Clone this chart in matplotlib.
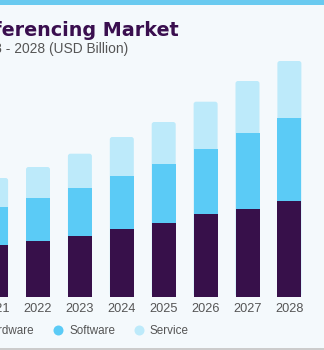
import matplotlib
matplotlib.use("Agg")
import matplotlib.pyplot as plt
from matplotlib.patches import FancyBboxPatch, Rectangle
from matplotlib.lines import Line2D
import numpy as np

years = ["2021", "2022", "2023", "2024", "2025", "2026", "2027", "2028"]
hardware = [5.15, 5.58, 6.05, 6.72, 7.38, 8.22, 8.72, 9.55]
software = [3.83, 4.27, 4.80, 5.36, 5.87, 6.53, 7.63, 8.30]
service = [2.87, 3.10, 3.43, 3.87, 4.20, 4.73, 5.20, 5.70]

c_hw = "#37104A"
c_sw = "#5BCBF6"
c_sv = "#BDEAFA"
bg = "#F4F9FC"

W, H = 324, 350
fig = plt.figure(figsize=(W / 100, H / 100), dpi=100, facecolor=bg)

# axes geometry in pixels
step = 41.9
x0_px = -3.9
xlim = (-0.8, 7.6)
left_px = x0_px + xlim[0] * step
right_px = x0_px + xlim[1] * step
bottom_px = 350 - 296.5
ylim = (0, 25)
height_px = 250
ax = fig.add_axes([left_px / W, bottom_px / H, (right_px - left_px) / W, height_px / H])
ax.set_facecolor(bg)
ax.set_xlim(*xlim)
ax.set_ylim(*ylim)

x = np.arange(len(years))
width = 24 / step
hw = np.array(hardware)
sw = np.array(software)
sv = np.array(service)
tot = hw + sw + sv

# service (rounded top) drawn behind the full stack
r = 2.5 / step
asp = (ylim[1] / height_px) / (1 / step)
for xi, t in zip(x, tot):
    p = FancyBboxPatch((xi - width / 2 + r, r * asp), width - 2 * r, t - 2 * r * asp,
                       boxstyle=f"round,pad={r}", mutation_aspect=asp,
                       facecolor=c_sv, edgecolor="none", zorder=1)
    ax.add_patch(p)
ax.bar(x, sw, width, bottom=hw, color=c_sw, zorder=2, label="Software")
ax.bar(x, hw, width, color=c_hw, zorder=3, label="Hardware")

for s in ax.spines.values():
    s.set_visible(False)
ax.set_yticks([])
ax.set_xticks(x)
ax.set_xticklabels(years, fontsize=9.2, color="#555555", fontname="Liberation Sans")
ax.tick_params(axis="x", length=0, pad=5)

# header stripe and bottom line
fig.patches.append(Rectangle((0, (H - 5) / H), 1, 5 / H, transform=fig.transFigure,
                             facecolor="#69CAF0", edgecolor="none", zorder=5))
fig.patches.append(Rectangle((0, 0), 1, 2 / H, transform=fig.transFigure,
                             facecolor="#CCCCCC", edgecolor="none", zorder=5))

fig.text(179 / W, 1 - 35.7 / H, "U.S. Video Conferencing Market", ha="right", va="baseline",
         fontsize=13.8, fontweight="bold", color="#3A0F4F", fontname="DejaVu Sans")
fig.text(128 / W, 1 - 53 / H, "size, by component, 2018 - 2028 (USD Billion)", ha="right",
         va="baseline", fontsize=9.9, color="#555555", fontname="Liberation Sans")

handles = [Line2D([], [], marker="o", linestyle="none", markersize=7.2, markerfacecolor=c, markeredgecolor="none")
           for c in (c_hw, c_sw, c_sv)]
leg = fig.legend(handles, ["Hardware", "Software", "Service"], ncol=3, frameon=False,
                 loc="center right", bbox_to_anchor=(189 / W, 1 - 331 / H),
                 prop={"family": "Liberation Sans", "size": 8.4}, labelcolor="#555555",
                 handlelength=0.8, handletextpad=0.55, columnspacing=1.65, borderpad=0,
                 borderaxespad=0)

fig.savefig("out.png", dpi=100, facecolor=bg)
